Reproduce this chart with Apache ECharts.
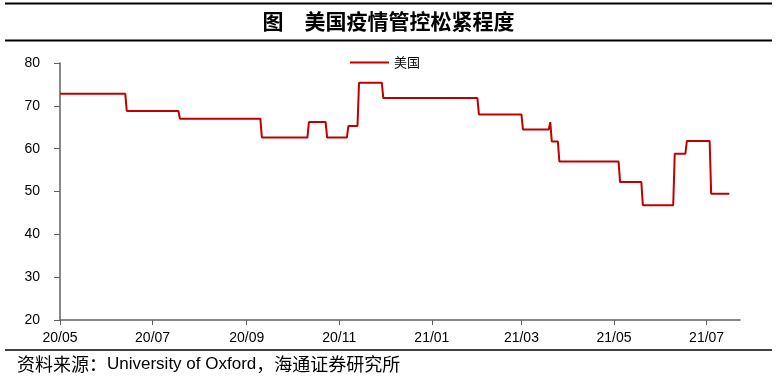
<!DOCTYPE html>
<html>
<head>
<meta charset="utf-8">
<script src="https://cdn.jsdelivr.net/npm/echarts@6/dist/echarts.min.js"></script>
<style>
html,body{margin:0;padding:0;background:#fff;}
#chart{width:778px;height:387px;}
</style>
</head>
<body>
<div id="chart"></div>
<script>
// ---- data ----
const seriesName = '美国';
const dates = ['2020-05-01','2020-06-13','2020-06-14','2020-07-18','2020-07-19','2020-09-10','2020-09-11','2020-10-11','2020-10-12','2020-10-23','2020-10-24','2020-11-06','2020-11-07','2020-11-13','2020-11-14','2020-11-29','2020-11-30','2021-01-31','2021-02-01','2021-03-01','2021-03-02','2021-03-19','2021-03-20','2021-03-21','2021-03-25','2021-03-26','2021-05-04','2021-05-05','2021-05-19','2021-05-20','2021-06-09','2021-06-10','2021-06-17','2021-06-18','2021-07-03','2021-07-04','2021-07-16'];
const values = [72.8,72.8,68.8,68.8,67.0,67.0,62.6,62.6,66.2,66.2,62.6,62.6,65.3,65.3,75.4,75.4,71.8,71.8,68.0,68.0,64.5,64.5,66.2,61.7,61.7,57.0,57.0,52.2,52.2,46.8,46.8,58.8,58.8,61.8,61.8,49.5,49.5];
const tickDates = ['2020-05-01','2020-07-01','2020-09-01','2020-11-01','2021-01-01','2021-03-01','2021-05-01','2021-07-01'];
const tickLabels = ['20/05','20/07','20/09','20/11','21/01','21/03','21/05','21/07'];
const xMin = '2020-05-01';
const xMax = '2021-07-23';
const yMin = 20, yMax = 80, yInterval = 10;
const titleText = '图　美国疫情管控松紧程度';
const sourceCn1 = '资料来源：';
const sourceEn = 'University of Oxford';
const sourceCn2 = '，海通证券研究所';

// day offsets from the axis start (UTC to avoid DST issues)
function dayNum(s){ const p = s.split('-').map(Number); return Math.round(Date.UTC(p[0], p[1]-1, p[2]) / 86400000); }
const base = dayNum(xMin);
const toX = s => dayNum(s) - base;
const tickX = tickDates.map(toX);
const seriesData = dates.map((d,i)=>[toX(d), values[i]]);

const chart = echarts.init(document.getElementById('chart'), null, {renderer:'canvas'});
const axisColor = '#606060';
const labelFont = 'Liberation Sans, Arial, sans-serif';
chart.setOption({
  animation:false,
  backgroundColor:'#fff',
  grid:{left:60, right:38, top:63, bottom:67, containLabel:false, outerBoundsMode:'none'},
  legend:{
    data:[seriesName], left:350, top:56, padding:0, itemGap:0,
    icon:'rect', itemWidth:39, itemHeight:2,
    textStyle:{fontSize:13, color:'#000', fontFamily:'Noto Sans CJK SC'}
  },
  xAxis:{
    type:'value', min:0, max:toX(xMax),
    axisLine:{lineStyle:{color:axisColor, width:1.5}},
    axisTick:{show:true, length:5, customValues:tickX, lineStyle:{color:axisColor}},
    axisLabel:{
      customValues:tickX, margin:11, fontSize:14, color:'#000', fontFamily:labelFont,
      formatter:function(v){ const i = tickX.indexOf(Math.round(+v)); return i>=0 ? tickLabels[i] : ''; }
    },
    splitLine:{show:false}
  },
  yAxis:{
    type:'value', min:yMin, max:yMax, interval:yInterval,
    axisLine:{show:true, lineStyle:{color:axisColor, width:1.5}},
    axisTick:{show:true, length:6, lineStyle:{color:axisColor}},
    axisLabel:{margin:20, fontSize:14, color:'#000', fontFamily:labelFont},
    splitLine:{show:false}
  },
  series:[{
    name:seriesName, type:'line', data:seriesData, symbol:'none', showSymbol:false,
    lineStyle:{color:'#C00000', width:2}, itemStyle:{color:'#C00000'}
  }],
  graphic:[
    {type:'line', shape:{x1:5,y1:3.5,x2:772,y2:3.5}, style:{stroke:'#000', lineWidth:2}},
    {type:'line', shape:{x1:5,y1:40.5,x2:772,y2:40.5}, style:{stroke:'#000', lineWidth:2}},
    {type:'text', x:388.5, y:21, style:{text:titleText, fill:'#000', font:'bold 21px "Noto Sans CJK SC"', align:'center', verticalAlign:'middle'}},
    {type:'line', shape:{x1:5,y1:350,x2:772,y2:350}, style:{stroke:'#000', lineWidth:1.5}},
    {type:'text', x:17, y:364, style:{
      text:'{a|'+sourceCn1+'}{b|'+sourceEn+'}{a|'+sourceCn2+'}',
      verticalAlign:'middle', align:'left',
      rich:{
        a:{fontSize:18, fontFamily:'Noto Sans CJK SC', fill:'#000'},
        b:{fontSize:17, fontFamily:'Liberation Sans, Arial', fill:'#000'}
      }
    }}
  ]
});
</script>
</body>
</html>
